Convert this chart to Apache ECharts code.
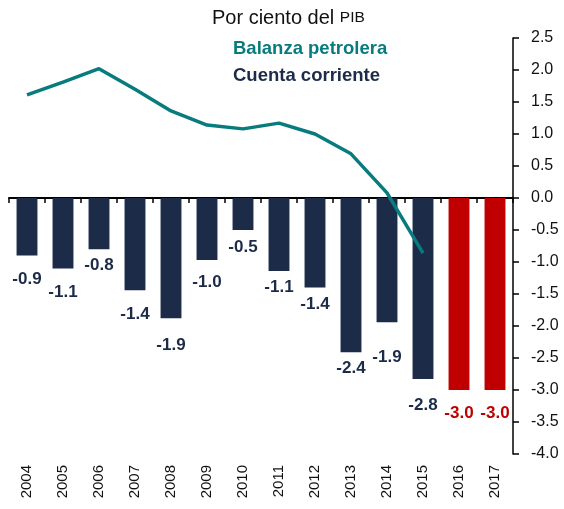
<!DOCTYPE html>
<html><head><meta charset="utf-8">
<script src="https://cdn.jsdelivr.net/npm/echarts@6/dist/echarts.min.js"></script>
<style>html,body{margin:0;padding:0;background:#fff}#c{width:564px;height:509px}</style>
</head><body><div id="c"></div>
<script>
const years = ['2004','2005','2006','2007','2008','2009','2010','2011','2012','2013','2014','2015','2016','2017'];
const cuentaCorriente = [-0.9,-1.1,-0.8,-1.44,-1.88,-0.97,-0.5,-1.14,-1.4,-2.41,-1.94,-2.83,-3.0,-3.0];
const balanzaPetrolera = [1.61,1.81,2.02,1.70,1.36,1.14,1.08,1.17,1.0,0.69,0.08,-0.86];
const estimatedYears = ['2016','2017'];
const yTicks = {min:-4, max:2.5, interval:0.5};
// label gaps below each bar (styling only)
const labelGap = [15,15,8,16,18,14,9,8,8,8,27,18,15,15];

const NAVY='#1b2b48', TEAL='#087b7e', RED='#c00000';
const FONT='Liberation Sans, Arial, sans-serif';

const barData = cuentaCorriente.map((v,i)=>{
  const est = estimatedYears.includes(years[i]);
  return {value:v,
    itemStyle:{color: est?RED:NAVY},
    label:{distance:labelGap[i], color: est?RED:NAVY}};
});

const chart = echarts.init(document.getElementById('c'));
chart.setOption({
  animation:false,
  textStyle:{fontFamily:FONT},
  title:{
    text:'{a|Por ciento del }{b|PIB}',
    left:207, top:3,
    textStyle:{rich:{
      a:{fontSize:20,color:'#111',fontFamily:FONT,fontWeight:'normal'},
      b:{fontSize:15.5,color:'#111',fontFamily:FONT,fontWeight:'normal'}
    }}
  },
  legend:{
    orient:'vertical', left:223, top:34, itemGap:8,
    itemWidth:0, itemHeight:0,
    data:[
      {name:'Balanza petrolera', icon:'none', textStyle:{color:TEAL}},
      {name:'Cuenta corriente', icon:'none', textStyle:{color:NAVY}}
    ],
    textStyle:{fontSize:18.5,fontWeight:'bold',fontFamily:FONT}
  },
  grid:{left:9,right:51,top:38,bottom:55},
  xAxis:[
    {type:'category',data:years,
     axisLine:{onZero:true,lineStyle:{color:'#000',width:2}},
     axisTick:{show:true,length:5,lineStyle:{color:'#000',width:1.5}},
     axisLabel:{show:false}},
    {type:'category',data:years,position:'bottom',
     axisLine:{show:false},axisTick:{show:false},
     axisLabel:{rotate:90,fontSize:15,color:'#111',margin:11,fontFamily:FONT}}
  ],
  yAxis:{type:'value',position:'right',min:yTicks.min,max:yTicks.max,interval:yTicks.interval,
    axisLine:{show:true,lineStyle:{color:'#000',width:1.5}},
    axisTick:{show:true,inside:false,length:6,lineStyle:{color:'#000',width:1.5}},
    splitLine:{show:false},
    axisLabel:{fontSize:16,color:'#111',margin:18,fontFamily:FONT,
      formatter:v=>v.toFixed(1)}},
  series:[
    {name:'Cuenta corriente',type:'bar',xAxisIndex:0,barWidth:'58%',data:barData,
     label:{show:true,position:'bottom',fontSize:17,fontWeight:'bold',fontFamily:FONT,
       formatter:p=>p.value.toFixed(1)}},
    {name:'Balanza petrolera',type:'line',xAxisIndex:0,data:balanzaPetrolera,
     symbol:'none',lineStyle:{color:TEAL,width:3.5},itemStyle:{color:TEAL}}
  ]
});
</script></body></html>
